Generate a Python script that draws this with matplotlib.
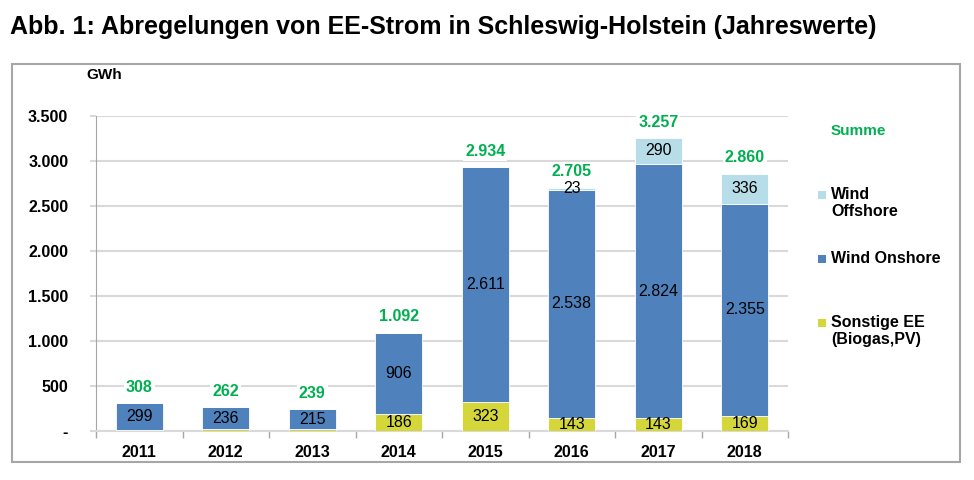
import matplotlib.pyplot as plt
from matplotlib.patches import Rectangle

plt.rcParams['font.family'] = ['Liberation Sans', 'DejaVu Sans']

# data (GWh)
years = ['2011', '2012', '2013', '2014', '2015', '2016', '2017', '2018']
sonstige = [9, 26, 24, 186, 323, 143, 143, 169]
onshore = [299, 236, 215, 906, 2611, 2538, 2824, 2355]
offshore = [0, 0, 0, 0, 0, 23, 290, 336]
summe = [308, 262, 239, 1092, 2934, 2705, 3257, 2860]
yticks = [0, 500, 1000, 1500, 2000, 2500, 3000, 3500]
ytick_labels = ['-', '500', '1.000', '1.500', '2.000', '2.500', '3.000', '3.500']

c_son = '#D4D63A'
c_on = '#4F81BD'
c_off = '#B7DDE8'
c_sum = '#00B050'

def fmt(v):
    return '{:,}'.format(v).replace(',', '.')

fig = plt.figure(figsize=(9.74, 4.8), dpi=100)
ax = fig.add_axes([96 / 974, 1 - 431 / 480, (788 - 96) / 974, (431 - 116) / 480])

x = list(range(len(years)))
w = 0.54
ax.bar(x, sonstige, w, color=c_son, edgecolor='white', linewidth=0.6, zorder=3)
ax.bar(x, onshore, w, bottom=sonstige, color=c_on, edgecolor='white', linewidth=0.6, zorder=3)
bot3 = [s + o for s, o in zip(sonstige, onshore)]
ax.bar(x, offshore, w, bottom=bot3, color=c_off, edgecolor='white', linewidth=0.6, zorder=3)

# segment labels
for i in x:
    if sonstige[i] > 100:
        ax.text(i, sonstige[i] / 2, fmt(sonstige[i]), ha='center', va='center', fontsize=11.5, zorder=5)
    ax.text(i, sonstige[i] + onshore[i] / 2, fmt(onshore[i]), ha='center', va='center', fontsize=11.5, zorder=5)
    if offshore[i] > 0:
        ax.text(i, bot3[i] + offshore[i] / 2, fmt(offshore[i]), ha='center', va='center', fontsize=11.5, zorder=5)
    # totals above the bars
    ax.annotate(fmt(summe[i]), (i, summe[i]), xytext=(0, 6), textcoords='offset points',
                ha='center', va='bottom', fontsize=11.5, fontweight='bold', color=c_sum, zorder=6,
                bbox=dict(facecolor='white', edgecolor='none', pad=1.5))

ax.set_xlim(-0.5, len(years) - 0.5)
ax.set_ylim(0, 3500)
ax.set_yticks(yticks)
ax.set_yticklabels(ytick_labels, fontsize=11.5, fontweight='bold')
ax.set_xticks(x)
ax.set_xticklabels(years, fontsize=11.5, fontweight='bold')
ax.set_xticks([i - 0.5 for i in range(len(years) + 1)], minor=True)
ax.tick_params(axis='x', which='major', length=0, pad=10)
ax.tick_params(axis='x', which='minor', length=5, color='#A6A6A6', width=1)
ax.tick_params(axis='y', length=4, color='#D9D9D9', width=1.5, pad=16)

ax.grid(axis='y', color='#D9D9D9', linewidth=1.5, zorder=0)
for s in ['top', 'right']:
    ax.spines[s].set_visible(False)
ax.spines['left'].set_color('#A6A6A6')
ax.spines['bottom'].set_color('#D9D9D9')
ax.spines['bottom'].set_linewidth(1.5)

# title and unit
fig.text(10 / 974, 1 - 27 / 480, 'Abb. 1: Abregelungen von EE-Strom in Schleswig-Holstein (Jahreswerte)',
         fontsize=18, fontweight='bold', va='center', ha='left')
fig.text(104 / 974, 1 - 75 / 480, 'GWh', fontsize=11, fontweight='bold', ha='center', va='center')

# frame
fig.patches.append(Rectangle((12 / 974, 1 - 462 / 480), (960 - 12) / 974, (462 - 64) / 480,
                             transform=fig.transFigure, fill=False, edgecolor='#A6A6A6', linewidth=1.5))

# legend
fig.text(831 / 974, 1 - 131 / 480, 'Summe', fontsize=11, fontweight='bold', color=c_sum, va='center')
legend_items = [('Wind\nOffshore', c_off, 195), ('Wind Onshore', c_on, 259), ('Sonstige EE\n(Biogas,PV)', c_son, 323)]
for label, col, ypix in legend_items:
    fig.patches.append(Rectangle((818 / 974, 1 - (ypix + 4) / 480), 8 / 974, 8 / 480,
                                 transform=fig.transFigure, facecolor=col, edgecolor='none'))
    fig.text(831 / 974, 1 - (ypix - 8) / 480, label, fontsize=11.5, fontweight='bold', va='top',
             linespacing=1.15)

fig.savefig('out.png', dpi=100)
